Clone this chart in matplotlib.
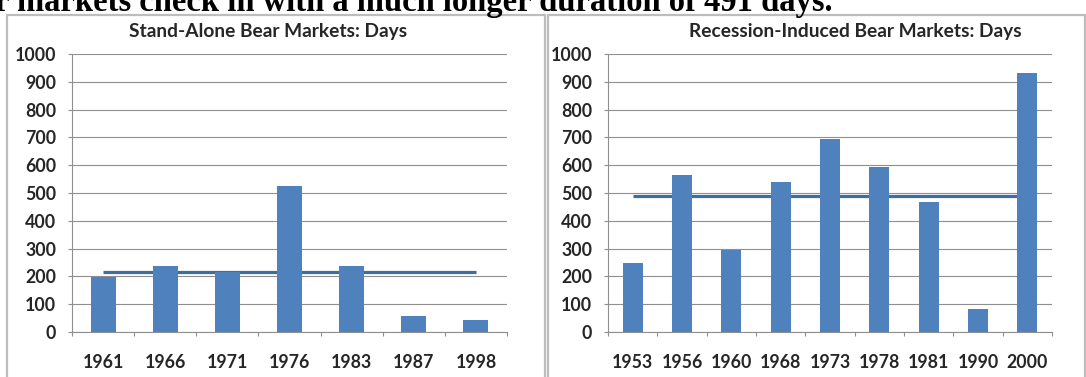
import matplotlib.pyplot as plt
from matplotlib.patches import Rectangle
from matplotlib.ticker import FixedLocator

# data
stand_years = ['1961', '1966', '1971', '1976', '1983', '1987', '1998']
stand_days = [198, 238, 216, 525, 238, 56, 44]
stand_avg = 215

rec_years = ['1953', '1956', '1960', '1968', '1973', '1978', '1981', '1990', '2000']
rec_days = [250, 563, 294, 540, 694, 592, 468, 83, 930]
rec_avg = 491

heading = 'bear markets check in with a much longer duration of 491 days.'
titles = ['Stand-Alone Bear Markets: Days', 'Recession-Induced Bear Markets: Days']

W, H = 1086, 377
bar_color = '#4f81bd'
line_color = '#3f6d9e'
grid_color = '#8f8f8f'
text_color = '#262626'

fig = plt.figure(figsize=(W / 100, H / 100), dpi=100)


def px(x, y):
    # pixel (from top-left) -> figure fraction
    return x / W, 1 - y / H


# chart panels, kept behind the axes
for x0, x1 in [(7, 545), (548, 1085)]:
    fig.patches.append(Rectangle((x0 / W, -0.01), (x1 - x0) / W, 1 - 15 / H + 0.01,
                                 transform=fig.transFigure, facecolor='white',
                                 edgecolor='#bdbdbd', linewidth=1.6, zorder=-1))

# heading, cut at the top of the picture
hx, hy = px(832, 11)
fig.text(hx, hy, heading, ha='right', va='baseline', fontsize=23.5,
         family='Liberation Serif', fontweight='bold', color='black')


def draw(ax, years, days, avg, title, title_x):
    n = len(years)
    xs = list(range(n))
    ax.plot(xs, [avg] * n, color=line_color, linewidth=2.3, zorder=2,
            solid_capstyle='butt')
    ax.bar(xs, days, width=0.4, color=bar_color, zorder=3)
    ax.set_xlim(-0.5, n - 0.5)
    ax.set_ylim(0, 1000)
    ax.set_yticks(range(0, 1001, 100))
    ax.set_xticks(xs)
    ax.set_xticklabels(years)
    ax.xaxis.set_minor_locator(FixedLocator([i - 0.5 for i in range(n + 1)]))
    ax.yaxis.grid(True, color=grid_color, linewidth=0.8, zorder=1)
    ax.set_axisbelow(True)
    for s in ['top', 'right']:
        ax.spines[s].set_visible(False)
    for s in ['left', 'bottom']:
        ax.spines[s].set_color(grid_color)
        ax.spines[s].set_linewidth(0.8)
    ax.tick_params(axis='x', which='major', length=0, pad=16)
    ax.tick_params(axis='x', which='minor', length=3, color=grid_color, width=0.8)
    ax.tick_params(axis='y', length=3, color=grid_color, width=0.8, pad=8.5)
    for lab in ax.get_xticklabels() + ax.get_yticklabels():
        lab.set_fontfamily('Lato')
        lab.set_fontweight('bold')
        lab.set_fontsize(12.8)
        lab.set_color(text_color)
    tx, ty = px(title_x, 31)
    fig.text(tx, ty, title, ha='center', va='center', fontsize=13.8,
             family='Lato', fontweight='bold', color=text_color)


bottom = 45 / H
height = 278 / H
ax1 = fig.add_axes([72 / W, bottom, 435 / W, height])
ax2 = fig.add_axes([608 / W, bottom, 444 / W, height])
draw(ax1, stand_years, stand_days, stand_avg, titles[0], 268)
draw(ax2, rec_years, rec_days, rec_avg, titles[1], 855)

fig.savefig('out.png', dpi=100)
